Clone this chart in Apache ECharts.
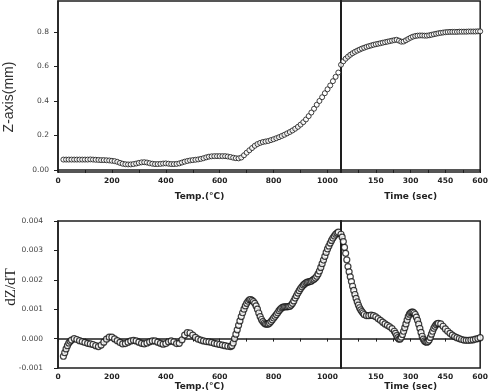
<!DOCTYPE html>
<html><head><meta charset="utf-8">
<script src="https://cdn.jsdelivr.net/npm/echarts@6/dist/echarts.min.js"></script>
<style>html,body{margin:0;padding:0;background:#fff}#c{width:491px;height:392px}</style>
</head><body><div id="c"></div>
<script>
// ---- Top chart: Z vs temperature ----
const tempsTop = [20,30,40,50,60,70,80,90,100,110,120,130,140,150,160,170,180,190,200,210,220,230,240,250,260,270,280,290,300,310,320,330,340,350,360,370,380,390,400,410,420,430,440,450,460,470,480,490,500,510,520,530,540,550,560,570,580,590,600,610,620,630,640,650,660,670,680,690,700,710,720,730,740,750,760,770,780,790,800,810,820,830,840,850,860,870,880,890,900,910,920,930,940,950,960,970,980,990,1000,1010,1020,1030,1040];
const zTemp = [0.060,0.060,0.060,0.060,0.060,0.060,0.060,0.060,0.060,0.060,0.061,0.060,0.059,
0.058,0.057,0.057,0.056,0.055,0.053,0.051,0.047,0.041,0.036,
0.033,0.032,0.032,0.034,0.037,0.041,0.044,0.045,0.043,0.039,
0.036,0.034,0.034,0.035,0.037,0.038,0.036,0.034,0.034,0.035,
0.038,0.043,0.048,0.052,0.055,0.057,0.059,0.061,0.064,0.068,
0.073,0.077,0.079,0.080,0.080,0.080,0.080,0.080,0.078,0.075,
0.071,0.068,0.067,0.072,0.085,0.100,0.114,0.127,0.140,0.150,
0.157,0.162,0.165,0.168,0.173,0.178,0.184,0.190,0.197,0.204,
0.212,0.220,0.229,0.239,0.250,0.263,0.277,0.293,0.312,0.333,
0.355,0.378,0.400,0.422,0.445,0.468,0.490,0.515,0.540,0.565];

// ---- Top chart: Z vs time ----
const timesTop = [0,10,20,30,40,50,60,70,80,90,100,110,120,130,140,150,160,170,180,190,200,210,220,230,240,250,260,270,280,290,300,310,320,330,340,350,360,370,380,390,400,410,420,430,440,450,460,470,480,490,500,510,520,530,540,550,560,570,580,590,600];
const zTime = [0.610,0.630,0.645,0.657,0.668,0.677,0.685,0.692,0.698,0.704,
0.709,0.714,0.718,0.722,0.726,0.729,0.732,0.735,0.738,0.741,
0.744,0.747,0.750,0.753,0.755,0.750,0.744,0.745,0.752,0.760,
0.767,0.773,0.777,0.779,0.780,0.780,0.779,0.779,0.781,0.784,
0.787,0.790,0.793,0.795,0.797,0.799,0.800,0.801,0.801,0.801,
0.801,0.802,0.802,0.802,0.802,0.803,0.803,0.803,0.803,0.804,
0.804];

// ---- Bottom chart: dZ/dT vs temperature ----
const tempsBottom = [20,25,30,35,40,45,50,
60,70,80,90,100,110,120,130,140,150,160,170,180,190,200,210,220,230,240,250,260,270,280,290,300,310,320,330,340,350,360,370,380,390,400,410,420,430,440,450,460,470,480,490,500,510,520,530,540,550,560,570,580,590,600,610,620,630,
640,645,650,655,660,665,670,675,680,685,690,695,700,705,710,715,720,725,730,735,740,745,750,755,760,765,770,775,780,785,790,795,800,805,810,815,820,825,830,835,840,845,850,855,860,865,870,875,880,885,890,895,900,905,910,915,920,925,930,935,940,945,950,955,960,965,970,975,980,985,990,995,1000,1005,1010,1015,1020,1025,1030,1035,1040];
const dzdtTemp = [-0.00060,-0.00048,-0.00035,-0.00024,-0.00015,-0.00009,-0.00005,
0.00000,-0.00003,-0.00007,-0.00010,-0.00013,-0.00016,-0.00018,-0.00020,-0.00024,-0.00027,
-0.00022,-0.00012,-0.00002,0.00005,0.00005,-0.00001,-0.00007,-0.00013,-0.00018,-0.00017,
-0.00012,-0.00008,-0.00006,-0.00008,-0.00012,-0.00016,-0.00018,-0.00015,-0.00011,-0.00008,
-0.00008,-0.00012,-0.00016,-0.00019,-0.00017,-0.00011,-0.00008,-0.00011,-0.00017,-0.00016,
-0.00004,0.00012,0.00020,0.00019,0.00012,0.00004,-0.00002,-0.00005,-0.00008,-0.00010,
-0.00011,-0.00013,-0.00016,-0.00018,-0.00020,-0.00022,-0.00024,-0.00026,
-0.00027,-0.00024,-0.00015,0.00000,0.00015,0.00030,0.00045,0.00060,0.00075,0.00088,
0.00100,0.00111,0.00120,0.00127,0.00132,0.00133,0.00130,0.00126,0.00120,0.00111,
0.00100,0.00087,0.00075,0.00065,0.00058,0.00053,0.00050,0.00049,0.00050,0.00053,
0.00058,0.00064,0.00070,0.00076,0.00082,0.00088,0.00095,0.00100,0.00105,0.00107,
0.00108,0.00108,0.00108,0.00109,0.00110,0.00114,0.00120,0.00128,0.00138,0.00146,
0.00155,0.00163,0.00170,0.00176,0.00182,0.00186,0.00190,0.00192,0.00193,0.00194,
0.00196,0.00199,0.00202,0.00206,0.00212,0.00220,0.00230,0.00242,0.00255,0.00267,
0.00280,0.00293,0.00305,0.00315,0.00325,0.00334,0.00342,0.00349,0.00355,0.00359,
0.00362];

// ---- Bottom chart: dZ/dT vs time ----
const timesBottom = [0,5,10,15,20,25,30,35,40,45,50,55,60,65,70,75,80,85,90,95,100,
110,120,130,140,150,160,170,180,190,200,210,220,
230,235,240,245,250,255,260,265,270,275,280,285,290,295,300,305,310,315,320,325,330,335,340,345,350,355,360,365,370,375,380,385,390,395,400,405,410,415,420,
430,440,450,460,470,480,490,500,510,520,530,540,550,560,570,580,590,600];
const dzdtTime = [0.00355,0.00345,0.00330,0.00310,0.00290,0.00268,0.00245,0.00227,0.00210,0.00194,0.00178,0.00164,0.00150,0.00137,0.00125,0.00114,0.00105,0.00098,0.00092,0.00087,0.00082,
0.00078,0.00078,0.00080,0.00078,0.00074,0.00068,0.00062,0.00056,0.00050,0.00045,0.00040,0.00034,
0.00025,0.00018,0.00010,0.00003,-0.00002,-0.00001,0.00005,0.00014,0.00025,0.00037,0.00050,0.00063,0.00075,0.00083,0.00088,0.00090,0.00090,0.00087,0.00082,0.00073,0.00062,0.00049,0.00035,0.00021,0.00008,-0.00002,-0.00008,-0.00011,-0.00012,-0.00010,-0.00005,0.00004,0.00015,0.00025,0.00035,0.00042,0.00048,0.00051,0.00052,
0.00050,0.00042,0.00033,0.00025,0.00018,0.00012,0.00007,0.00003,0.00000,-0.00003,-0.00005,-0.00006,-0.00006,-0.00005,-0.00004,-0.00002,0.00000,0.00003];

// ---- Axis ticks / labels ----
const tempLabels = [0,200,400,600,800,1000];
const tempTicks = [0,100,200,300,400,500,600,700,800,900,1000];
const timeLabels = [150,300,450,600];
const timeTicks = [75,150,225,300,375,450,525,600];
const zLabels = [0,0.2,0.4,0.6,0.8];
const dzLabels = [-0.001,0,0.001,0.002,0.003,0.004];

const pair = (xs, ys) => xs.map((x, i) => [x, ys[i]]);
const AX = '#1e1e1e';
const tickFont = {fontFamily:'DejaVu Sans', fontWeight:'bold', fontSize:7.5, color:'#222'};
const nameFont = {fontFamily:'DejaVu Sans', fontWeight:'bold', fontSize:9, color:'#222'};

function xAx(grid, min, max, labels, ticks, name, gap){
  return {type:'value', gridIndex:grid, min:min, max:max,
    name:name, nameLocation:'middle', nameGap:gap, nameTextStyle:nameFont,
    axisLine:{show:true, lineStyle:{color:AX, width:1.5}},
    axisTick:{show:true, customValues:ticks, length:3, lineStyle:{color:AX, width:1}},
    axisLabel:{show:true, customValues:labels, margin:5, formatter: v => String(v), ...tickFont},
    splitLine:{show:false}};
}
function yAx(grid, min, max, labels, fmt, margin, showLab){
  return {type:'value', gridIndex:grid, min:min, max:max,
    axisLine:{show:true, onZero:false, lineStyle:{color:AX, width: showLab?1.5:2}},
    axisTick:{show:showLab, customValues:labels, length:4, lineStyle:{color:AX, width:1}},
    axisLabel:{show:showLab, customValues:labels, formatter:fmt, margin:margin,
      fontFamily:'DejaVu Sans', fontSize:7.5, color:'#444'},
    splitLine:{show:false}};
}
const gridStyle = {show:true, borderColor:AX, borderWidth:1.5, backgroundColor:'transparent'};
const sym = (size, bw) => ({type:'scatter', symbol:'circle', symbolSize:size,
  itemStyle:{color:'#fff', borderColor:'#111', borderWidth:bw}});

const option = {
  animation:false,
  grid:[
    {left:58, top:1, width:283, height:171, ...gridStyle},
    {left:341, top:1, width:140, height:171, ...gridStyle},
    {left:58, top:221, width:283, height:147, ...gridStyle},
    {left:341, top:221, width:141, height:147, ...gridStyle}
  ],
  xAxis:[
    xAx(0, 0, 1050, tempLabels, tempTicks, 'Temp.(°C)', 20),
    xAx(1, 0, 600, timeLabels, timeTicks, 'Time (sec)', 20),
    xAx(2, 0, 1050, tempLabels, tempTicks, 'Temp.(°C)', 14),
    xAx(3, 0, 600, timeLabels, timeTicks, 'Time (sec)', 14)
  ],
  yAxis:[
    yAx(0, -0.012, 0.98, zLabels, v => v === 0 ? '0.00' : v.toFixed(1), 9, true),
    yAx(1, -0.012, 0.98, zLabels, null, 0, false),
    yAx(2, -0.001, 0.004, dzLabels, v => v.toFixed(3), 15, true),
    yAx(3, -0.001, 0.004, dzLabels, null, 0, false)
  ],
  graphic:[
    {type:'text', x:9, y:97, rotation:Math.PI/2,
      style:{text:'Z-axis(mm)', fontFamily:'Liberation Sans', fontSize:14, fill:'#333', align:'center', verticalAlign:'middle'}},
    {type:'text', x:11, y:287, rotation:Math.PI/2,
      style:{text:'dZ/dT', fontFamily:'Liberation Serif', fontSize:15, fill:'#222', align:'center', verticalAlign:'middle'}}
  ],
  series:[
    {...sym(5, 1), xAxisIndex:0, yAxisIndex:0, data:pair(tempsTop, zTemp)},
    {...sym(5, 1), xAxisIndex:1, yAxisIndex:1, data:pair(timesTop, zTime)},
    {...sym(6, 1.2), xAxisIndex:2, yAxisIndex:2, data:pair(tempsBottom, dzdtTemp)},
    {...sym(6, 1.2), xAxisIndex:3, yAxisIndex:3, data:pair(timesBottom, dzdtTime)}
  ]
};
const chart = echarts.init(document.getElementById('c'), null, {renderer:'canvas'});
chart.setOption(option);
</script>
</body></html>
